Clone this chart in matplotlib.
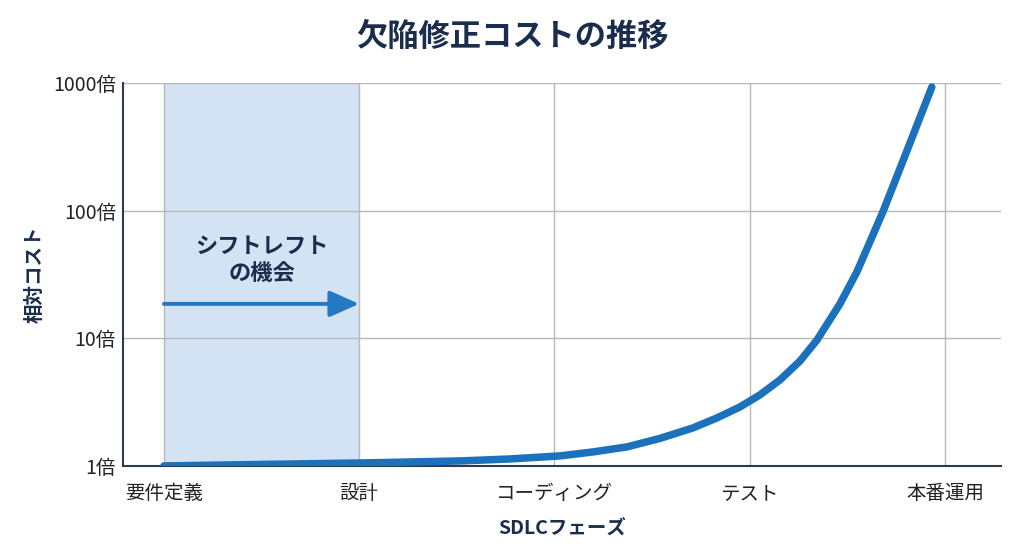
import numpy as np
import matplotlib.pyplot as plt
from matplotlib.ticker import FixedLocator, FixedFormatter

plt.rcParams['font.family'] = ['Noto Sans CJK JP', 'DejaVu Sans']

# SDLC phases (x categories)
phases = ["要件定義", "設計", "コーディング", "テスト", "本番運用"]

# cost curve (x in phase units, y relative cost)
curve_x = [0.0, 0.492, 1.014, 1.516, 1.772, 2.028, 2.197, 2.371, 2.540,
           2.709, 2.832, 2.950, 3.052, 3.155, 3.258, 3.345, 3.462, 3.549,
           3.682, 3.795, 3.933]
curve_y = [1.0, 1.027, 1.055, 1.094, 1.134, 1.198, 1.287, 1.409, 1.642,
           1.984, 2.376, 2.897, 3.597, 4.717, 6.642, 9.70, 18.56, 33.05,
           97.5, 267.7, 929]

y_ticks = [1, 10, 100, 1000]
y_labels = ["1倍", "10倍", "100倍", "1000倍"]

shift_span = (0, 1)
arrow_y = 18.6
note_y = 41
note_text = "シフトレフト\nの機会"

navy = "#1b2d4d"
blue = "#1c71bd"

fig = plt.figure(figsize=(10.24, 5.58), dpi=100)
ax = fig.add_axes([0.120, 0.165, 0.8575, 0.6863])

ax.set_yscale("log")
ax.set_xlim(-0.21, 4.287)
ax.set_ylim(1, 1000)

ax.axvspan(*shift_span, color="#d3e3f3", zorder=0.5, lw=0)

for x in range(len(phases)):
    ax.axvline(x, color="#b8b8b8", lw=1, zorder=1)
for y in y_ticks[1:]:
    ax.axhline(y, color="#b8b8b8", lw=1, zorder=1)

ax.plot(curve_x, curve_y, color=blue, lw=5.4, solid_capstyle="round",
        solid_joinstyle="round", zorder=3)

ax.annotate("", xy=(shift_span[1], arrow_y), xytext=(shift_span[0], arrow_y),
            arrowprops=dict(arrowstyle="-|>,head_length=1.8,head_width=0.8",
                            color="#2479c2", lw=2.8, shrinkA=0, shrinkB=0),
            zorder=4)
ax.text(0.5, note_y, note_text, ha="center", va="center", fontsize=16,
        fontweight="bold", color=navy, linespacing=1.2, zorder=4)

ax.yaxis.set_major_locator(FixedLocator(y_ticks))
ax.yaxis.set_major_formatter(FixedFormatter(y_labels))
ax.yaxis.set_minor_locator(FixedLocator([]))
ax.set_xticks(range(len(phases)))
ax.set_xticklabels(phases)
ax.tick_params(axis="both", length=0, labelsize=14, labelcolor="#222222")
ax.tick_params(axis="y", pad=5)
ax.tick_params(axis="x", pad=12)

for side in ("top", "right"):
    ax.spines[side].set_visible(False)
for side in ("left", "bottom"):
    ax.spines[side].set_color("#2e3b4e")
    ax.spines[side].set_linewidth(1.5)

ax.set_xlabel("SDLCフェーズ", fontsize=14, fontweight="bold", color=navy,
              labelpad=11)
ax.set_ylabel("相対コスト", fontsize=14, fontweight="bold", color=navy,
              labelpad=6)

fig.suptitle("欠陥修正コストの推移", fontsize=22.5, fontweight="bold",
             color=navy, x=0.5, y=0.962)

fig.savefig("out.png", dpi=100, facecolor="white")
